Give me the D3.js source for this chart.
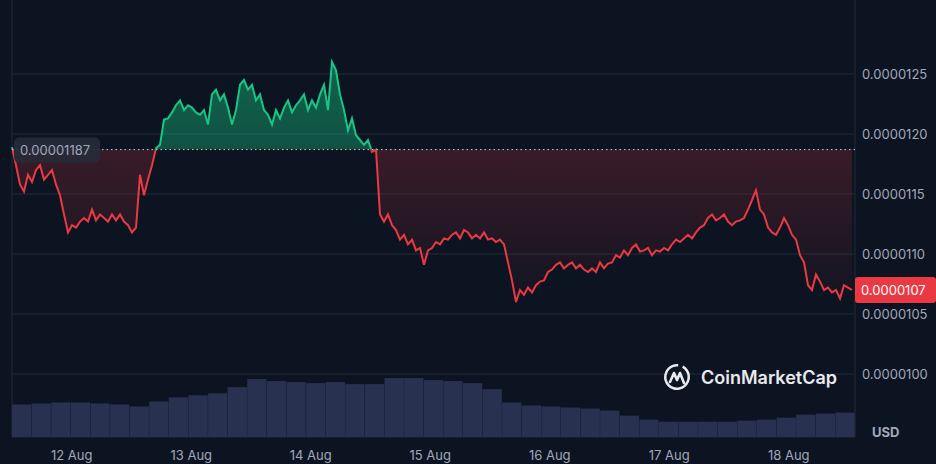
<!DOCTYPE html>
<html><head><meta charset="utf-8">
<script src="https://cdn.jsdelivr.net/npm/d3@7"></script>
<style>body{margin:0;background:#0d1421;}svg{display:block;font-family:Inter,"Noto Sans",sans-serif;}</style>
</head><body><svg id="c" width="936" height="464"></svg>
<script>
// price in units of 1e-8 USD, sampled at equal time steps
const prices=[1189,1174,1158,1152,1166,1160,1170,1174,1162,1166,1170,1158,1149,1133,1118,1124,1122,1127,1130,1127,1137,1128,1133,1130,1127,1133,1128,1133,1127,1124,1118,1122,1166,1149,1162,1174,1188,1191,1212,1213,1218,1224,1228,1220,1224,1222,1218,1216,1220,1208,1233,1237,1228,1233,1222,1208,1220,1241,1245,1237,1241,1228,1233,1220,1216,1208,1220,1213,1222,1228,1218,1224,1228,1233,1220,1228,1222,1233,1241,1220,1260,1253,1233,1220,1203,1213,1199,1195,1191,1195,1185,1187,1133,1127,1133,1124,1120,1112,1116,1108,1112,1103,1105,1091,1103,1105,1110,1108,1113,1112,1116,1118,1113,1120,1118,1113,1116,1113,1118,1112,1113,1110,1112,1108,1093,1078,1060,1070,1066,1072,1068,1074,1077,1078,1085,1087,1091,1093,1088,1091,1093,1088,1091,1087,1085,1088,1085,1093,1088,1092,1093,1099,1097,1103,1099,1105,1108,1102,1103,1105,1099,1103,1102,1105,1103,1108,1112,1110,1113,1116,1113,1118,1122,1124,1130,1133,1128,1130,1133,1127,1124,1127,1128,1130,1137,1145,1153,1137,1133,1122,1118,1116,1122,1130,1124,1116,1112,1099,1093,1074,1070,1083,1077,1070,1072,1068,1070,1063,1074,1072,1070];
const volumes=[32,33,34,34,33,32,30,35,39,41,43,49,57,55,54,53,54,52,52,58,58,56,55,53,47,34,31,30,29,28,26,21,17,15,15,15,15,16,17,19,22,23,24];
const baseline=1187;
const yTicks=[1000,1050,1100,1150,1200,1250];
const xTickLabels=["12 Aug","13 Aug","14 Aug","15 Aug","16 Aug","17 Aug","18 Aug"];
const lastLabel="0.0000107";

const svg=d3.select("#c");
const L=12,R=855,B=437;
const DAY=864e5;
const t0=Date.UTC(2024,7,11,12);
const stepP=4/119.5*DAY;
const tEnd=t0+(R-L)/119.5*DAY;
const x=d3.scaleLinear().domain([t0,tEnd]).range([L,R]);
const y=d3.scaleLinear().domain([1000,1250]).range([374,74]);
const data=prices.map((p,i)=>({t:t0+i*stepP,p}));

svg.append("g").selectAll("line").data(yTicks).join("line")
 .attr("x1",L).attr("x2",R).attr("y1",d=>y(d)).attr("y2",d=>y(d))
 .attr("stroke","#222a38").attr("stroke-width",1);
svg.append("line").attr("x1",L).attr("x2",L).attr("y1",0).attr("y2",B).attr("stroke","#222a38");
svg.append("line").attr("x1",L).attr("x2",R).attr("y1",B).attr("y2",B).attr("stroke","#222a38");
svg.append("line").attr("x1",R).attr("x2",R).attr("y1",0).attr("y2",B).attr("stroke","#222a38");

const vStep=(R-L)/volumes.length;
const vy=d3.scaleLinear().domain([0,60]).range([B,B-61]);
svg.append("g").selectAll("rect").data(volumes).join("rect")
 .attr("x",(d,i)=>L+i*vStep).attr("width",vStep-0.3)
 .attr("y",d=>vy(d)).attr("height",d=>B-vy(d)).attr("fill","#283150");

const defs=svg.append("defs");
const gG=defs.append("linearGradient").attr("id","gg").attr("x1",0).attr("x2",0).attr("y1",0).attr("y2",1);
gG.append("stop").attr("offset","0").attr("stop-color","#16c784").attr("stop-opacity",0.45);
gG.append("stop").attr("offset","1").attr("stop-color","#16c784").attr("stop-opacity",0.15);
const gR=defs.append("linearGradient").attr("id","gr").attr("x1",0).attr("x2",0).attr("y1",0).attr("y2",1);
gR.append("stop").attr("offset","0").attr("stop-color","#ea3943").attr("stop-opacity",0.3);
gR.append("stop").attr("offset","1").attr("stop-color","#ea3943").attr("stop-opacity",0.02);
const yb=y(baseline);
defs.append("clipPath").attr("id","above").append("rect").attr("x",0).attr("y",0).attr("width",936).attr("height",yb);
defs.append("clipPath").attr("id","below").append("rect").attr("x",0).attr("y",yb).attr("width",936).attr("height",464);

const area=d3.area().x(d=>x(d.t)).y0(yb).y1(d=>y(d.p));
const line=d3.line().x(d=>x(d.t)).y(d=>y(d.p));
svg.append("path").datum(data).attr("d",area).attr("fill","url(#gg)").attr("clip-path","url(#above)");
svg.append("path").datum(data).attr("d",area).attr("fill","url(#gr)").attr("clip-path","url(#below)");
svg.append("path").datum(data).attr("d",line).attr("fill","none").attr("stroke","#16c784").attr("stroke-width",2).attr("clip-path","url(#above)");
svg.append("path").datum(data).attr("d",line).attr("fill","none").attr("stroke","#ea3943").attr("stroke-width",2).attr("clip-path","url(#below)");

svg.append("line").attr("x1",L).attr("x2",R).attr("y1",yb).attr("y2",yb)
 .attr("stroke","#c8ccd6").attr("stroke-dasharray","1.5,3").attr("stroke-width",1);
svg.append("rect").attr("x",14).attr("y",yb-12).attr("width",86).attr("height",25).attr("rx",5).attr("fill","#262b38").attr("opacity",0.9);
svg.append("text").attr("x",20).attr("y",yb+5).attr("fill","#a1a7bb").attr("font-size",13).text("0.0000"+baseline);

svg.append("g").selectAll("text").data(yTicks).join("text")
 .attr("x",862).attr("y",d=>y(d)+5).attr("fill","#a1a7bb").attr("font-size",13)
 .text(d=>(d*1e-8).toFixed(7));
const lp=prices[prices.length-1];
svg.append("rect").attr("x",855).attr("y",y(lp)-13).attr("width",81).attr("height",26).attr("rx",3).attr("fill","#ea3943");
svg.append("text").attr("x",861).attr("y",y(lp)+5).attr("fill","#fff").attr("font-size",13).text(lastLabel);
svg.append("text").attr("x",872).attr("y",437).attr("fill","#a1a7bb").attr("font-size",13).attr("font-weight","bold").text("USD");

svg.append("g").selectAll("text").data(xTickLabels).join("text")
 .attr("x",(d,i)=>x(Date.UTC(2024,7,12+i))).attr("y",460).attr("text-anchor","middle")
 .attr("fill","#a1a7bb").attr("font-size",13).text(d=>d);

const wm=svg.append("g").attr("transform","translate(677,377)");
wm.append("path").attr("d",d3.arc()({innerRadius:10.5,outerRadius:13,startAngle:0.5,endAngle:2*Math.PI+0.1}))
 .attr("fill","#e8eaf0");
wm.append("path").attr("d","M-7,5 L-3,-4 L0,3 L3,-4 L7,6").attr("fill","none").attr("stroke","#e8eaf0").attr("stroke-width",2.6).attr("stroke-linejoin","round").attr("stroke-linecap","round");
wm.append("text").attr("x",24).attr("y",7).attr("fill","#e8eaf0").attr("font-size",18).attr("font-weight",600).text("CoinMarketCap");
</script></body></html>
